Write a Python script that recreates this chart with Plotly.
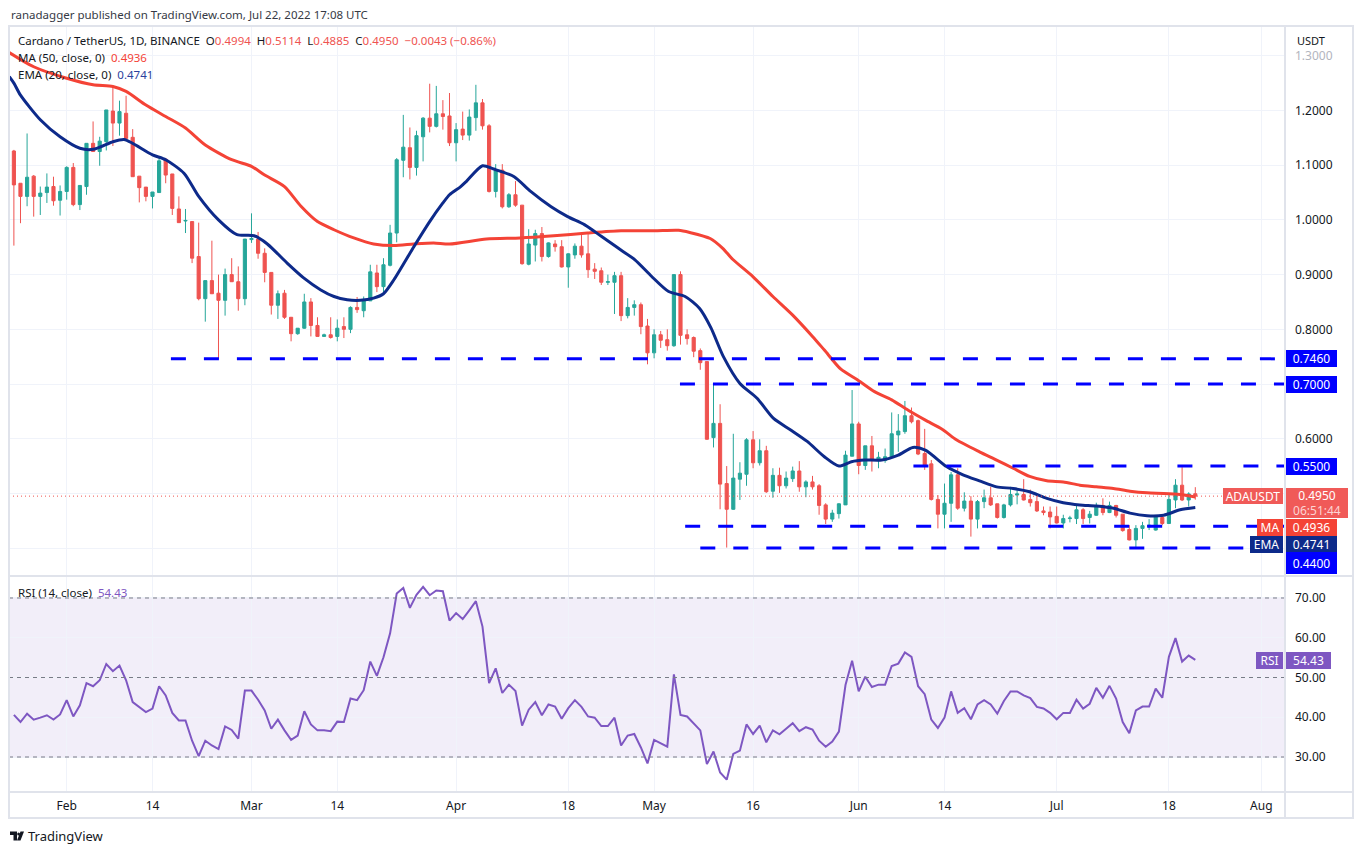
import pandas as pd
import plotly.graph_objects as go

W, H = 1363, 854
FONT = "Noto Sans"

# daily ADA/USDT candles, Jan 24 - Jul 22 2022
start = pd.Timestamp("2022-01-24")
opens = [1.126, 1.067, 1.043, 1.080, 1.043, 1.050, 1.061, 1.036, 1.052, 1.096,
         1.028, 1.061, 1.140, 1.125, 1.143, 1.199, 1.177, 1.195, 1.151, 1.080,
         1.060, 1.043, 1.050, 1.111, 1.084, 1.020, 0.998, 0.997, 0.933, 0.856,
         0.889, 0.866, 0.853, 0.900, 0.887, 0.856, 0.964, 0.965, 0.939, 0.904,
         0.844, 0.866, 0.822, 0.792, 0.802, 0.850, 0.807, 0.787, 0.790, 0.787,
         0.805, 0.800, 0.840, 0.834, 0.852, 0.903, 0.878, 0.917, 0.976, 1.109,
         1.132, 1.096, 1.152, 1.186, 1.171, 1.194, 1.190, 1.141, 1.166, 1.155,
         1.187, 1.214, 1.172, 1.052, 1.091, 1.024, 1.046, 1.027, 0.919, 0.954,
         0.975, 0.933, 0.956, 0.951, 0.914, 0.936, 0.952, 0.938, 0.910, 0.907,
         0.886, 0.886, 0.898, 0.825, 0.840, 0.845, 0.806, 0.757, 0.790, 0.781,
         0.770, 0.900, 0.790, 0.785, 0.761, 0.741, 0.602, 0.628, 0.518, 0.471,
         0.526, 0.535, 0.598, 0.556, 0.578, 0.504, 0.533, 0.514, 0.527, 0.541,
         0.512, 0.521, 0.514, 0.479, 0.453, 0.463, 0.479, 0.568, 0.627, 0.551,
         0.587, 0.560, 0.560, 0.566, 0.607, 0.613, 0.642, 0.633, 0.573, 0.554,
         0.489, 0.462, 0.482, 0.534, 0.473, 0.486, 0.453, 0.485, 0.492, 0.481,
         0.456, 0.479, 0.497, 0.498, 0.489, 0.485, 0.468, 0.466, 0.458, 0.446,
         0.454, 0.454, 0.470, 0.456, 0.460, 0.478, 0.465, 0.478, 0.462, 0.434,
         0.415, 0.436, 0.439, 0.433, 0.456, 0.445, 0.488, 0.515, 0.488, 0.4994]
highs = [1.128, 1.067, 1.158, 1.082, 1.061, 1.085, 1.079, 1.063, 1.098, 1.104,
         1.063, 1.140, 1.180, 1.152, 1.201, 1.244, 1.218, 1.227, 1.166, 1.080,
         1.060, 1.051, 1.116, 1.113, 1.084, 1.043, 1.020, 0.997, 0.995, 0.889,
         0.962, 0.900, 0.911, 0.930, 0.915, 0.965, 1.012, 0.978, 0.948, 0.904,
         0.871, 0.872, 0.822, 0.802, 0.865, 0.857, 0.822, 0.792, 0.822, 0.818,
         0.822, 0.842, 0.859, 0.860, 0.918, 0.918, 0.930, 0.991, 1.113, 1.192,
         1.169, 1.163, 1.188, 1.249, 1.245, 1.219, 1.232, 1.177, 1.198, 1.202,
         1.247, 1.221, 1.175, 1.102, 1.102, 1.049, 1.071, 1.027, 0.983, 0.982,
         0.987, 0.959, 0.963, 0.963, 0.939, 0.957, 0.974, 0.974, 0.921, 0.913,
         0.900, 0.905, 0.905, 0.857, 0.853, 0.849, 0.819, 0.800, 0.797, 0.800,
         0.900, 0.906, 0.800, 0.787, 0.765, 0.741, 0.701, 0.663, 0.550, 0.609,
         0.557, 0.601, 0.614, 0.599, 0.587, 0.546, 0.547, 0.540, 0.549, 0.559,
         0.524, 0.532, 0.517, 0.482, 0.470, 0.482, 0.578, 0.689, 0.631, 0.587,
         0.605, 0.576, 0.582, 0.648, 0.645, 0.669, 0.657, 0.635, 0.618, 0.561,
         0.497, 0.518, 0.539, 0.546, 0.502, 0.495, 0.488, 0.507, 0.512, 0.481,
         0.481, 0.512, 0.510, 0.526, 0.507, 0.500, 0.476, 0.476, 0.476, 0.461,
         0.459, 0.477, 0.473, 0.468, 0.483, 0.491, 0.485, 0.479, 0.462, 0.442,
         0.442, 0.448, 0.453, 0.460, 0.459, 0.500, 0.526, 0.548, 0.502, 0.5114]
lows = [0.953, 0.994, 1.025, 1.006, 1.009, 1.031, 1.026, 1.008, 1.037, 1.025,
        1.018, 1.046, 1.125, 1.099, 1.127, 1.135, 1.154, 1.148, 1.079, 1.032,
        1.034, 1.021, 1.050, 1.067, 1.009, 0.995, 0.976, 0.921, 0.853, 0.814,
        0.865, 0.746, 0.825, 0.887, 0.834, 0.844, 0.958, 0.929, 0.886, 0.827,
        0.819, 0.819, 0.778, 0.790, 0.801, 0.787, 0.787, 0.787, 0.783, 0.778,
        0.784, 0.793, 0.830, 0.822, 0.852, 0.868, 0.868, 0.915, 0.959, 1.078,
        1.074, 1.081, 1.107, 1.160, 1.169, 1.165, 1.135, 1.107, 1.146, 1.145,
        1.163, 1.165, 1.050, 1.041, 1.021, 1.022, 1.024, 0.918, 0.917, 0.924,
        0.924, 0.931, 0.942, 0.913, 0.876, 0.929, 0.931, 0.894, 0.892, 0.881,
        0.881, 0.828, 0.815, 0.820, 0.825, 0.791, 0.736, 0.747, 0.766, 0.761,
        0.768, 0.772, 0.772, 0.749, 0.726, 0.598, 0.584, 0.471, 0.401, 0.470,
        0.488, 0.514, 0.546, 0.551, 0.501, 0.492, 0.501, 0.509, 0.521, 0.503,
        0.493, 0.507, 0.461, 0.444, 0.448, 0.454, 0.479, 0.568, 0.535, 0.543,
        0.540, 0.546, 0.556, 0.565, 0.576, 0.609, 0.628, 0.570, 0.543, 0.487,
        0.436, 0.436, 0.448, 0.470, 0.467, 0.421, 0.436, 0.473, 0.477, 0.454,
        0.454, 0.476, 0.480, 0.487, 0.476, 0.466, 0.460, 0.436, 0.445, 0.436,
        0.447, 0.444, 0.444, 0.445, 0.459, 0.460, 0.464, 0.456, 0.430, 0.414,
        0.402, 0.417, 0.433, 0.432, 0.442, 0.444, 0.473, 0.486, 0.476, 0.4885]
closes = [1.064, 1.043, 1.078, 1.043, 1.049, 1.060, 1.035, 1.052, 1.096, 1.028,
          1.063, 1.140, 1.125, 1.144, 1.201, 1.177, 1.198, 1.149, 1.079, 1.059,
          1.043, 1.051, 1.108, 1.082, 1.021, 0.995, 0.999, 0.930, 0.856, 0.889,
          0.865, 0.853, 0.900, 0.887, 0.856, 0.965, 0.966, 0.939, 0.904, 0.844,
          0.865, 0.822, 0.792, 0.802, 0.850, 0.807, 0.787, 0.790, 0.785, 0.802,
          0.800, 0.840, 0.836, 0.852, 0.905, 0.878, 0.918, 0.976, 1.110, 1.133,
          1.096, 1.154, 1.186, 1.171, 1.194, 1.189, 1.141, 1.165, 1.155, 1.188,
          1.214, 1.172, 1.052, 1.090, 1.024, 1.046, 1.027, 0.920, 0.956, 0.975,
          0.933, 0.958, 0.951, 0.914, 0.938, 0.952, 0.936, 0.909, 0.906, 0.886,
          0.887, 0.898, 0.825, 0.840, 0.845, 0.805, 0.757, 0.790, 0.780, 0.770,
          0.900, 0.789, 0.783, 0.760, 0.739, 0.599, 0.628, 0.517, 0.471, 0.528,
          0.537, 0.598, 0.556, 0.578, 0.503, 0.533, 0.514, 0.528, 0.541, 0.512,
          0.521, 0.512, 0.478, 0.453, 0.464, 0.481, 0.570, 0.627, 0.551, 0.587,
          0.560, 0.566, 0.567, 0.609, 0.614, 0.642, 0.631, 0.572, 0.552, 0.489,
          0.462, 0.482, 0.534, 0.473, 0.486, 0.453, 0.485, 0.492, 0.479, 0.456,
          0.479, 0.498, 0.499, 0.488, 0.483, 0.468, 0.465, 0.457, 0.446, 0.454,
          0.455, 0.470, 0.454, 0.462, 0.478, 0.465, 0.478, 0.460, 0.432, 0.415,
          0.436, 0.441, 0.442, 0.459, 0.445, 0.489, 0.515, 0.488, 0.499, 0.4950]

rsi = [40.6, 38.8, 40.9, 39.4, 39.9, 40.5, 39.4, 40.7, 44.3, 40.2,
       43.0, 48.6, 47.8, 49.3, 53.4, 51.6, 53.0, 49.3, 43.8, 42.6,
       41.3, 42.2, 47.8, 45.5, 41.1, 39.2, 39.2, 34.1, 30.2, 34.1,
       32.9, 32.0, 37.7, 36.8, 34.6, 46.7, 46.7, 44.4, 41.7, 37.1,
       39.4, 36.7, 34.3, 35.4, 41.5, 38.2, 36.7, 36.7, 36.5, 38.9,
       38.8, 44.7, 44.3, 46.8, 54.0, 50.4, 55.1, 61.1, 71.1, 72.5,
       67.5, 70.8, 72.8, 70.7, 71.9, 71.7, 64.3, 66.2, 64.7, 66.9,
       69.2, 62.8, 48.6, 52.3, 46.1, 48.2, 46.6, 37.9, 41.9, 43.8,
       40.5, 43.2, 42.7, 39.6, 42.3, 44.3, 42.6, 40.2, 39.9, 37.8,
       37.8, 39.9, 32.9, 35.4, 35.8, 32.4, 28.4, 34.3, 33.5, 32.6,
       50.8, 40.6, 40.2, 38.5, 36.7, 28.2, 31.4, 26.1, 24.3, 30.8,
       31.6, 38.2, 35.8, 37.9, 33.7, 36.7, 35.7, 37.1, 38.5, 36.5,
       37.5, 36.9, 34.1, 32.6, 33.9, 36.4, 48.1, 54.2, 46.5, 50.2,
       47.6, 48.2, 48.2, 52.9, 53.5, 56.3, 55.2, 47.8, 45.8, 39.4,
       37.3, 39.9, 46.5, 41.1, 42.3, 39.5, 43.2, 44.3, 43.2, 40.9,
       44.1, 46.5, 46.5, 45.5, 44.8, 42.6, 42.2, 41.1, 39.5, 41.1,
       41.1, 44.4, 42.2, 43.4, 47.4, 44.9, 47.9, 44.7, 38.8, 36.0,
       41.7, 42.7, 42.7, 47.2, 44.9, 55.2, 59.9, 54.0, 55.5, 54.43]

# MA(50) and EMA(20) read at points along the lines (days after Jan 24)
ma_days = [-0.7, 3, 8, 12, 15, 17, 20, 23, 26, 29, 33, 36, 38, 41, 43.5, 46, 48.5,
           51.5, 54.5, 57.6, 60.6, 63.6, 66, 71.6, 76.7, 81.8, 86.9, 92, 97, 100.7,
           102.4, 105.5, 107.4, 108.9, 112, 115, 118, 121, 122.8, 125.3, 127.9,
           130.4, 133, 135.5, 138.1, 140.7, 142.8, 146.3, 148.9, 151.4, 153.9,
           156.5, 159, 161.5, 164, 166.6, 169.1, 171.7, 174.2, 176.7, 179]
ma_vals = [1.306, 1.280, 1.259, 1.247, 1.244, 1.235, 1.210, 1.189, 1.168, 1.137,
           1.110, 1.098, 1.082, 1.061, 1.025, 0.997, 0.982, 0.967, 0.956, 0.953,
           0.956, 0.958, 0.956, 0.965, 0.967, 0.971, 0.976, 0.980, 0.980, 0.981,
           0.977, 0.966, 0.948, 0.928, 0.896, 0.860, 0.826, 0.787, 0.762, 0.727,
           0.707, 0.686, 0.671, 0.652, 0.634, 0.617, 0.598, 0.576, 0.561, 0.546,
           0.531, 0.523, 0.521, 0.515, 0.512, 0.509, 0.504, 0.501, 0.500, 0.498,
           0.4936]
ema_days = [-0.7, 0, 1, 4, 7, 10, 12, 15, 16.7, 18, 21, 23, 25.8, 28, 31, 33.8,
            36.4, 38.4, 41.4, 43.9, 46.5, 48.5, 50.5, 52.5, 54.5, 56, 57.6, 60.6,
            63, 65, 66, 67.7, 68.6, 71, 72.7, 75.8, 78.3, 81.4, 83.9, 86.5, 89,
            91.6, 94.1, 96.6, 99.2, 101.7, 103.9, 105.6, 107.5, 110, 112.6, 115.1,
            117.7, 120.2, 122.8, 125, 126.9, 128.9, 131.5, 134, 136.2, 138.1,
            141.3, 143.8, 146.3, 148.9, 151.4, 153.9, 156.5, 159, 161.5, 164,
            166.6, 169.1, 171.7, 174.2, 176.7, 179]
ema_vals = [1.262, 1.250, 1.228, 1.183, 1.152, 1.131, 1.129, 1.143, 1.147, 1.140,
            1.119, 1.110, 1.085, 1.043, 1.000, 0.973, 0.971, 0.956, 0.921, 0.894,
            0.872, 0.860, 0.854, 0.853, 0.857, 0.865, 0.891, 0.951, 0.997, 1.031,
            1.046, 1.061, 1.071, 1.099, 1.093, 1.079, 1.052, 1.024, 1.006, 0.991,
            0.970, 0.948, 0.927, 0.897, 0.869, 0.860, 0.838, 0.803, 0.750, 0.701,
            0.674, 0.637, 0.616, 0.595, 0.567, 0.550, 0.558, 0.561, 0.561, 0.570,
            0.584, 0.579, 0.549, 0.534, 0.523, 0.512, 0.509, 0.503, 0.491, 0.483,
            0.479, 0.477, 0.473, 0.464, 0.459, 0.460, 0.470, 0.4741]

# horizontal levels drawn on the chart and where each one starts
levels = [0.746, 0.70, 0.55, 0.44, 0.40]
level_labels = ["0.7460", "0.7000", "0.5500", "0.4400", ""]
level_starts = ["2022-02-16 19:00", "2022-05-04 22:00", "2022-06-09 07:00",
                "2022-05-05 17:00", "2022-05-08 00:00"]

tick_dates = ["2022-02-01", "2022-02-14", "2022-03-01", "2022-03-14", "2022-04-01",
              "2022-04-18", "2022-05-01", "2022-05-16", "2022-06-01", "2022-06-14",
              "2022-07-01", "2022-07-18", "2022-08-01"]
tick_text = ["Feb", "14", "Mar", "14", "Apr", "18", "May", "16", "Jun", "14",
             "Jul", "18", "Aug"]
price_ticks = [0.4, 0.5, 0.6, 0.7, 0.8, 0.9, 1.0, 1.1, 1.2, 1.3]
price_text = ["", "", "0.6000", "", "0.8000", "0.9000", "1.0000", "1.1000", "1.2000",
              "<span style='color:#b2b5be'>1.3000</span>"]
rsi_ticks = [30, 40, 50, 60, 70]


def px(x):
    return x / W


def py(y):
    return 1 - y / H


dates = pd.date_range(start, periods=len(closes), freq="D")
ma_x = [start + pd.Timedelta(days=d) for d in ma_days]
ema_x = [start + pd.Timedelta(days=d) for d in ema_days]

GREEN, RED = "#26a69a", "#ef5350"
GRID = "#f0f3fa"
BORDER = "#e0e3eb"

fig = go.Figure()

fig.add_trace(go.Candlestick(
    x=dates, open=opens, high=highs, low=lows, close=closes,
    increasing=dict(line=dict(color=GREEN, width=1), fillcolor=GREEN),
    decreasing=dict(line=dict(color=RED, width=1), fillcolor=RED),
    whiskerwidth=0, showlegend=False, hoverinfo="skip",
    xaxis="x", yaxis="y"))

fig.add_trace(go.Scatter(x=ma_x, y=ma_vals, mode="lines",
                         line=dict(color="#f44336", width=3, shape="spline", smoothing=0.7),
                         showlegend=False, hoverinfo="skip", xaxis="x", yaxis="y"))
fig.add_trace(go.Scatter(x=ema_x, y=ema_vals, mode="lines",
                         line=dict(color="#0d2a8a", width=3, shape="spline", smoothing=0.7),
                         showlegend=False, hoverinfo="skip", xaxis="x", yaxis="y"))

fig.add_trace(go.Scatter(x=dates, y=rsi, mode="lines",
                         line=dict(color="#7e57c2", width=2),
                         showlegend=False, hoverinfo="skip", xaxis="x", yaxis="y2"))

x_range = ["2022-01-23 06:14", "2022-08-04 14:10"]
tickfont = dict(family=FONT, size=12, color="#131722")

fig.update_layout(
    width=W, height=H, autosize=False,
    margin=dict(l=0, r=0, t=0, b=0),
    paper_bgcolor="white", plot_bgcolor="white",
    boxgap=0.32,
    xaxis=dict(domain=[px(9), px(1285)], range=x_range, anchor="y2",
               tickvals=tick_dates, ticktext=tick_text, tickfont=tickfont,
               showgrid=True, gridcolor=GRID, gridwidth=1, zeroline=False,
               showline=False, ticks="", ticklabelstandoff=6,
               rangeslider=dict(visible=False)),
    yaxis=dict(domain=[py(576), py(26)], range=[0.349, 1.3545], anchor="x",
               side="right", tickvals=price_ticks, ticktext=price_text,
               tickfont=tickfont, showgrid=True, gridcolor=GRID, zeroline=False,
               showline=False, ticks="", ticklabelstandoff=9),
    yaxis2=dict(domain=[py(791), py(576)], range=[21.45, 75.53], anchor="x",
                side="right", tickvals=rsi_ticks,
                ticktext=["%.2f" % v for v in rsi_ticks],
                tickfont=tickfont, showgrid=True, gridcolor=GRID, zeroline=False,
                showline=False, ticks="", ticklabelstandoff=9),
)

# RSI band and its dashed guides
fig.add_shape(type="rect", xref="paper", yref="y2", x0=px(9), x1=px(1285), y0=30, y1=70,
              fillcolor="rgba(126,87,194,0.1)", line=dict(width=0), layer="below")
for v in [30, 50, 70]:
    fig.add_shape(type="line", xref="paper", yref="y2", x0=px(9), x1=px(1285), y0=v, y1=v,
                  line=dict(color="#787b86", width=1, dash="4px,4px"))

# horizontal levels
for lvl, st in zip(levels, level_starts):
    fig.add_shape(type="line", xref="x", yref="y", x0=st, x1=x_range[1], y0=lvl, y1=lvl,
                  line=dict(color="#0000ff", width=3, dash="15px,18px"))

# last price dotted line
fig.add_shape(type="line", xref="paper", yref="y", x0=px(9), x1=px(1222),
              y0=closes[-1], y1=closes[-1],
              line=dict(color=RED, width=1, dash="1px,3px"))

# frame and pane separators
fig.add_shape(type="rect", xref="paper", yref="paper", x0=px(9), x1=px(1353),
              y0=py(818), y1=py(26), line=dict(color=BORDER, width=2))
for yy in [576, 792]:
    fig.add_shape(type="line", xref="paper", yref="paper", x0=px(9), x1=px(1353),
                  y0=py(yy), y1=py(yy), line=dict(color=BORDER, width=2))
fig.add_shape(type="line", xref="paper", yref="paper", x0=px(1285), x1=px(1285),
              y0=py(818), y1=py(26), line=dict(color=BORDER, width=2))


def text(t, x, y, size=11.5, color="#131722", anchor="left"):
    fig.add_annotation(xref="paper", yref="paper", x=px(x), y=py(y), text=t,
                       showarrow=False, xanchor=anchor, yanchor="middle",
                       font=dict(family=FONT, size=size, color=color))


def box(t, x0, x1, yc, h, bg, size=12):
    fig.add_annotation(xref="paper", yref="paper", x=px(x0), y=py(yc), text=t,
                       showarrow=False, xanchor="left", yanchor="middle",
                       width=x1 - x0, height=h, bgcolor=bg, borderpad=0, borderwidth=0,
                       align="center", valign="middle",
                       font=dict(family=FONT, size=size, color="white"))


R = "<span style='color:#ef5350'>%s</span>"
text("ranadagger published on TradingView.com, Jul 22, 2022 17:08 UTC", 9, 14,
     size=11.5, color="#363a45")
text("Cardano / TetherUS, 1D, BINANCE&nbsp;&nbsp;O" + R % "0.4994" + "&nbsp;&nbsp;H" +
     R % "0.5114" + "&nbsp;&nbsp;L" + R % "0.4885" + "&nbsp;&nbsp;C" + R % "0.4950" +
     "&nbsp;&nbsp;" + R % "\u22120.0043 (\u22120.86%)", 16, 41)
text("MA (50, close, 0)&nbsp;&nbsp;<span style='color:#f44336'>0.4936</span>", 16, 58)
text("EMA (20, close, 0)&nbsp;&nbsp;<span style='color:#2a3f9d'>0.4741</span>", 16, 75)
text("RSI (14, close)&nbsp;&nbsp;<span style='color:#7e57c2'>54.43</span>", 16, 592)
text("USDT", 1295, 40, size=11)

for lvl, lab in zip(levels, level_labels):
    if lab and lvl > 0.5:
        yc = 384 - (lvl - 0.7) * 547
        box(lab, 1286, 1337, yc, 17, "#0000ff")

box("ADAUSDT", 1223, 1283, 496, 16, "#f05a58")
box("0.4950<br><span style='color:#fcd4d3'>06:51:44</span>", 1286, 1348, 503, 30, "#f05a58")
box("MA", 1257, 1283, 527, 17, "#f44336")
box("0.4936", 1286, 1337, 527, 17, "#f44336")
box("EMA", 1250, 1283, 544, 17, "#0d2a8a")
box("0.4741", 1286, 1337, 544, 17, "#0d2a8a")
box("0.4400", 1286, 1337, 563, 22, "#0000ff")
box("RSI", 1256, 1283, 660, 17, "#7e57c2")
box("54.43", 1286, 1331, 660, 17, "#7e57c2")

# TradingView logo + wordmark
fig.add_shape(type="path", xref="paper", yref="paper",
              path="M %f %f L %f %f L %f %f L %f %f L %f %f L %f %f Z" % (
                  px(10), py(831.5), px(17), py(831.5), px(17), py(840.5),
                  px(13.5), py(840.5), px(13.5), py(835), px(10), py(835)),
              fillcolor="#131722", line=dict(width=0))
fig.add_shape(type="path", xref="paper", yref="paper",
              path="M %f %f L %f %f L %f %f L %f %f Z" % (
                  px(20.5), py(831.5), px(24), py(831.5), px(20.5), py(840.5),
                  px(17), py(840.5)),
              fillcolor="#131722", line=dict(width=0))
fig.add_shape(type="circle", xref="paper", yref="paper",
              x0=px(17.2), x1=px(20), y0=py(835.5), y1=py(832.5),
              fillcolor="#131722", line=dict(width=0))
text("TradingView", 26, 836, size=13, color="#131722")

fig.write_html("out.html", config={"displayModeBar": False},
               post_script="document.body.style.margin='0';document.body.style.overflow='hidden';")
